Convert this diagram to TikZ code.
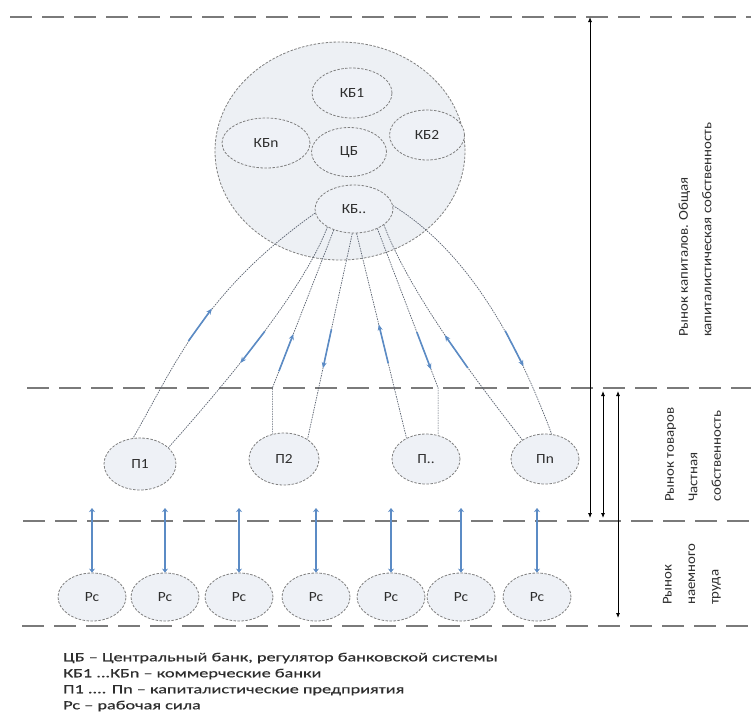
\documentclass[tikz,border=0pt]{standalone}
\usepackage{fontspec}
\setmainfont{Carlito}
\newfontfamily\legfont[FakeStretch=1.46,FakeBold=0.4]{Carlito}
\newfontfamily\labfont[FakeStretch=1.1]{Carlito}
\usetikzlibrary{arrows.meta,decorations.markings,calc,shapes.geometric}

\definecolor{nodefill}{HTML}{EEF1F6}
\definecolor{bigfill}{HTML}{EDF0F4}
\definecolor{nodeline}{HTML}{7F7F7F}
\definecolor{hline}{HTML}{7A7A7A}
\definecolor{flowblue}{HTML}{5B8BC5}
\definecolor{connc}{HTML}{5A6270}
\definecolor{txt}{HTML}{2E2E2E}

\begin{document}
\begin{tikzpicture}[x=1pt,y=-1pt,
  ell/.style={ellipse, draw=nodeline, fill=nodefill, line width=0.8pt,
    dash pattern=on 2.5pt off 1.5pt, inner sep=0pt,
    font=\labfont\fontsize{14}{14}\selectfont, text=txt},
  bigc/.style={ellipse, draw=nodeline, fill=bigfill, line width=0.8pt,
    dash pattern=on 2.5pt off 1.5pt, inner sep=0pt},
  hl/.style={draw=hline, line width=1.8pt, dash pattern=on 22pt off 10pt},
  vr/.style={draw=black, line width=0.8pt, {Latex[length=5pt,width=4pt]}-{Latex[length=5pt,width=4pt]}},
  conn/.style={draw=connc, line width=0.7pt, dash pattern=on 1.5pt off 1pt},
  upmark/.style={postaction={decorate}, decoration={markings,
    mark=at position #1 with {\draw[flowblue,line width=1.6pt,solid,{Stealth[length=6pt,width=5pt]}-] (-20pt,0)--(20pt,0);}}},
  downmark/.style={postaction={decorate}, decoration={markings,
    mark=at position #1 with {\draw[flowblue,line width=1.6pt,solid,-{Stealth[length=6pt,width=5pt]}] (-20pt,0)--(20pt,0);}}},
  barr/.style={draw=flowblue, line width=2.4pt, {Stealth[length=4pt,width=6pt]}-{Stealth[length=4pt,width=6pt]}},
  rlab/.style={font=\labfont\fontsize{13.5}{23.5}\selectfont, text=txt, align=left, inner sep=0pt},
]
\useasboundingbox (0,0) rectangle (751,724);
\fill[white] (0,0) rectangle (751,724);

% horizontal dashed lines
\coordinate (L1a) at (10,17);  \coordinate (L1b) at (751,17);
\coordinate (L2a) at (27,388); \coordinate (L2b) at (751,388);
\coordinate (L3a) at (23,521); \coordinate (L3b) at (751,521);
\coordinate (L4a) at (22,626); \coordinate (L4b) at (751,626);
\draw[hl] (L1a) -- (L1b);
\draw[hl] (L2a) -- (L2b);
\draw[hl] (L3a) -- (L3b);
\draw[hl] (L4a) -- (L4b);

% big circle and banks
\node[bigc, minimum width=250, minimum height=218] (big) at (340,151) {};
\node[ell, minimum width=80, minimum height=50] (kb1) at (352,93) {КБ1};
\node[ell, minimum width=88, minimum height=50] (kbn) at (266,143) {КБn};
\node[ell, minimum width=75, minimum height=49] (cb) at (349,152) {ЦБ};
\node[ell, minimum width=75, minimum height=50] (kb2) at (427,135) {КБ2};
\node[ell, minimum width=78, minimum height=48] (kbd) at (354,209) {КБ..};

% enterprises
\node[ell, minimum width=72, minimum height=52] (p1) at (140,464) {П1};
\node[ell, minimum width=70, minimum height=52] (p2) at (284,459) {П2};
\node[ell, minimum width=68, minimum height=50] (pd) at (426,459) {П..};
\node[ell, minimum width=68, minimum height=50] (pn) at (545,459) {Пn};

% labour
\foreach \i/\x in {1/92,2/165,3/239,4/316,5/391,6/461,7/537}{
  \node[ell, minimum width=68, minimum height=48] (rc\i) at (\x,597) {Рс};
  \coordinate (t\i) at (\x,508);
  \draw[barr] (t\i) -- (rc\i.north);
}

% connectors bank -> enterprises
\draw[conn, upmark=0.55] (kbd.186) .. controls (202,293) and (173,369) .. (p1.105);
\draw[conn, downmark=0.52] (kbd.214) .. controls (301,297) and (208,403) .. (p1.30);
\draw[conn, upmark=0.61] (kbd.226) -- (p2.115 |- L2a) -- (p2.115);
\draw[conn, downmark=0.56] (kbd.266) -- (p2.40);
\draw[conn, upmark=0.54] (kbd.276) -- (pd.133);
\draw[conn, downmark=0.6] (kbd.320) -- (pd.63 |- L2a) -- (pd.63);
\draw[conn, upmark=0.57] (kbd.332) .. controls (411,296) and (479,384) .. (pn.140);
\draw[conn, downmark=0.67] (kbd.5) .. controls (481,260) and (527,369) .. (pn.75);

% right vertical arrows
\coordinate (a1t) at (590,17);  \coordinate (a1b) at (590,518);
\coordinate (a2t) at (603,391); \coordinate (a2b) at (603,518);
\coordinate (a3t) at (618,391); \coordinate (a3b) at (618,618);
\draw[vr] (a1t) -- (a1b);
\draw[vr] (a2t) -- (a2b);
\draw[vr] (a3t) -- (a3b);

% right labels
\node[rlab, rotate=90, anchor=west] (lab1) at (695,337) {Рынок капиталов. Общая\\капиталистическая собственность};
\node[rlab, rotate=90, anchor=west] (lab2) at (693,502) {Рынок товаров\\Частная\\собственность};
\node[rlab, rotate=90, anchor=west] (lab3) at (692,605) {Рынок\\наемного\\труда};

% legend
\node[anchor=west, font=\legfont\fontsize{12.5}{16}\selectfont, align=left, text=txt, inner sep=0pt] (leg) at (63,682)
 {ЦБ – Центральный банк, регулятор банковской системы\\
  КБ1 ...КБn – коммерческие банки\\
  П1 .... Пn – капиталистические предприятия\\
  Рс – рабочая сила};
\end{tikzpicture}
\end{document}
